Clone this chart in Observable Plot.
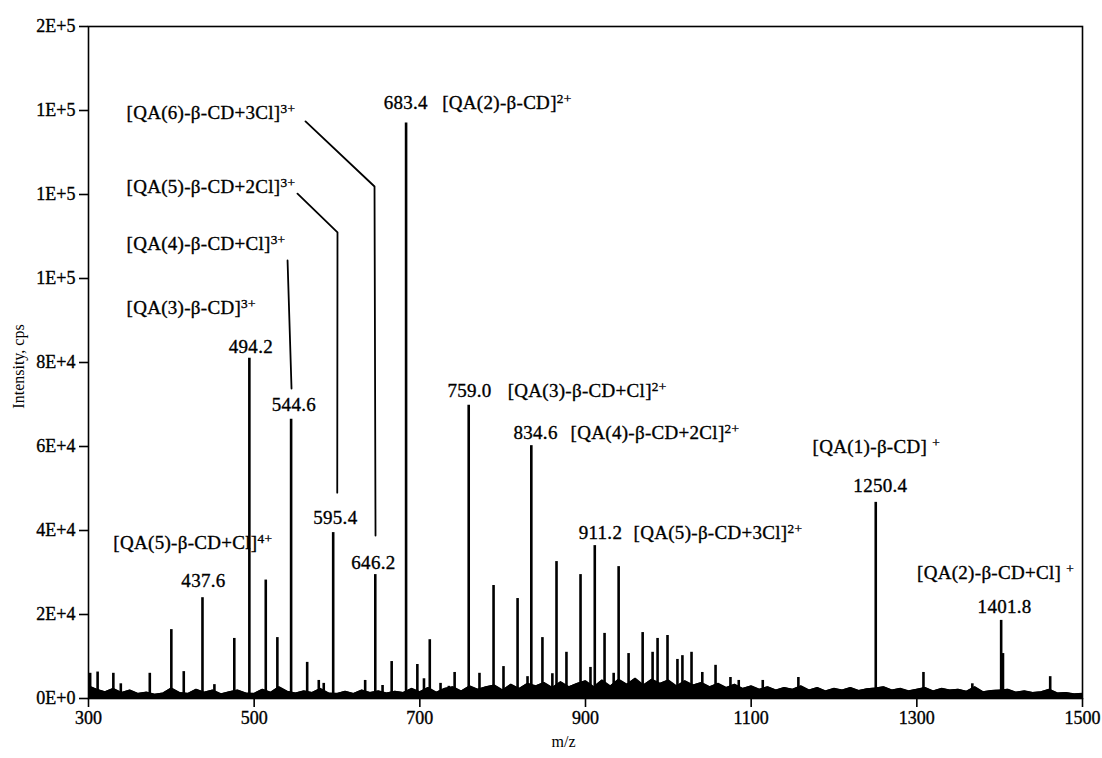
<!DOCTYPE html>
<html>
<head>
<meta charset="utf-8">
<script src="https://cdn.jsdelivr.net/npm/d3@7"></script>
<script src="https://cdn.jsdelivr.net/npm/@observablehq/plot@0.6"></script>
<style>
  html, body { margin: 0; padding: 0; background: #fff; }
  #chart { width: 1102px; height: 758px; }
</style>
</head>
<body>
<div id="chart"></div>
<script>
// ---- Data ----
const peakMz = [302, 311, 330, 339, 374, 400, 415, 437.6, 452, 476, 494.2, 514, 528, 544.6, 564, 578, 584, 595.4,
  634, 646.2, 655, 666, 683.4, 697, 705, 712, 725, 735, 742, 759.0, 772, 789, 801, 818, 830, 834.6, 848, 860, 865,
  877, 894, 906, 911.2, 923, 934, 940, 952, 969, 981, 987, 999, 1011, 1017, 1028, 1041, 1057, 1075, 1085, 1114,
  1157, 1250.4, 1308, 1367, 1401.8, 1404, 1461];
const peakIntensity = [6000, 6300, 6000, 3500, 6000, 16400, 6400, 24000, 3300, 14300, 81000, 28200, 14500, 66500, 8600, 4300, 3600, 39500,
  4300, 29500, 3100, 8800, 137000, 8100, 4700, 14000, 3600, 2900, 6200, 69800, 6000, 26900, 7600, 23800, 5200, 60200, 14500, 5900, 32600,
  11000, 29500, 7400, 36400, 15500, 6000, 31400, 10700, 15700, 11000, 14300, 15000, 9300, 10200, 11000, 6200, 7900, 5000, 4300, 4300,
  5000, 46700, 6200, 3500, 18600, 10700, 5200];

const noiseMz = [300,310,320,330,340,350,360,370,380,390,400,410,420,430,440,450,460,470,480,490,
  500,510,520,530,540,550,560,570,580,590,600,610,620,630,640,650,660,670,680,690,
  700,710,720,730,740,750,760,770,780,790,800,810,820,830,840,850,860,870,880,890,
  900,910,920,930,940,950,960,970,980,990,1000,1010,1020,1030,1040,1050,1060,1070,1080,1090,
  1100,1110,1120,1130,1140,1150,1160,1170,1180,1190,1200,1210,1220,1230,1240,1250,1260,1270,1280,1290,
  1300,1310,1320,1330,1340,1350,1360,1370,1380,1390,1400,1410,1420,1430,1440,1450,1460,1470,1480,1490,1500];
const noiseIntensity = [3000,2200,1600,2400,1400,2000,1200,1500,1000,1300,2500,1400,1200,2200,1500,2000,1100,1600,2000,1300,
  1200,2200,1500,2800,1700,1300,1800,1400,2400,1300,1200,1700,1200,2000,1400,1800,1300,1700,1400,2400,
  1600,2600,1500,2400,2800,1800,3000,2200,2800,3200,2000,3400,2400,3600,3000,3800,2600,4000,2800,3600,
  4200,2800,4400,3000,4600,3400,4800,3200,4600,3600,4400,3000,4200,3200,3800,2800,3600,2600,3400,2400,
  3000,2200,2800,2000,2600,2200,3000,2000,2600,1800,2400,2000,2600,1900,2300,2500,2800,2000,2400,1800,
  2200,2600,1800,2400,2000,2200,1700,2800,1600,1900,2000,2200,1500,1800,1400,1600,2200,1300,1400,1100,1200];

const xTicks = [300, 500, 700, 900, 1100, 1300, 1500];
const yTicks = [0, 20000, 40000, 60000, 80000, 100000, 120000, 140000, 160000];
const yTickLabels = ["0E+0", "2E+4", "4E+4", "6E+4", "8E+4", "1E+5", "1E+5", "1E+5", "2E+5"];

// annotation texts (^ marks the superscript part); anchor points in data units
const labelText = ["[QA(6)-β-CD+3Cl]^3+", "[QA(5)-β-CD+2Cl]^3+", "[QA(4)-β-CD+Cl]^3+", "[QA(3)-β-CD]^3+",
  "[QA(5)-β-CD+Cl]^4+", "[QA(2)-β-CD]^2+", "[QA(3)-β-CD+Cl]^2+", "[QA(4)-β-CD+2Cl]^2+", "[QA(5)-β-CD+3Cl]^2+"];
const labelMz = [345.9, 345.9, 345.9, 345.9, 330, 727, 806, 882, 958];
const labelY = [139500, 121700, 108300, 93100, 37100, 141900, 73300, 63300, 39500];

const centerText = ["[QA(1)-β-CD] ^+", "[QA(2)-β-CD+Cl] ^+"];
const centerMz = [1251, 1395];
const centerY = [59800, 30000];

const numText = ["437.6", "494.2", "544.6", "595.4", "646.2", "683.4", "759.0", "834.6", "911.2", "1250.4", "1401.8"];
const numMz = [438.8, 496, 548, 598, 644, 683, 760, 839.7, 918, 1256, 1406];
const numY = [28100, 83800, 69800, 43100, 32400, 141900, 73300, 63300, 39500, 50700, 21700];

const leaderId = ["a", "a", "a", "b", "b", "b", "c", "c"];
const leaderMz = [562, 645.3, 646.5, 552.3, 600.6, 600.3, 540.3, 545.1];
const leaderY = [137400, 121900, 38800, 120200, 111000, 49000, 104300, 73800];

// ---- Tables ----
const peaks = peakMz.map((m, i) => ({mz: m, v: peakIntensity[i]}));
const noise = noiseMz.map((m, i) => ({mz: m, v: noiseIntensity[i]}));
const labels = labelText.map((t, i) => ({t, mz: labelMz[i], v: labelY[i]}));
const centers = centerText.map((t, i) => ({t, mz: centerMz[i], v: centerY[i]}));
const nums = numText.map((t, i) => ({t, mz: numMz[i], v: numY[i]}));
const leaders = leaderId.map((id, i) => ({id, mz: leaderMz[i], v: leaderY[i]}));

const font = "'Liberation Serif', 'Times New Roman', serif";

const plot = Plot.plot({
  width: 1102,
  height: 758,
  marginLeft: 88,
  marginRight: 20,
  marginTop: 26,
  marginBottom: 60,
  style: {fontFamily: font, background: "#fff", color: "#000"},
  x: {domain: [300, 1500]},
  y: {domain: [0, 160000]},
  marks: [
    Plot.areaY(noise, {x: "mz", y: "v", fill: "#000", curve: "linear"}),
    Plot.lineY(noise, {x: "mz", y: "v", stroke: "#000", strokeWidth: 1.2}),
    Plot.ruleX(peaks, {x: "mz", y1: 0, y2: "v", stroke: "#000", strokeWidth: 2.6}),
    Plot.line(leaders, {x: "mz", y: "v", z: "id", stroke: "#000", strokeWidth: 1.8}),
    Plot.text(labels, {x: "mz", y: "v", text: "t", textAnchor: "start", fontSize: 19, fill: "#000", className: "ann"}),
    Plot.text(centers, {x: "mz", y: "v", text: "t", textAnchor: "middle", fontSize: 19, fill: "#000", className: "ann"}),
    Plot.text(nums, {x: "mz", y: "v", text: "t", textAnchor: "middle", fontSize: 19, fill: "#000", className: "ann"}),
    Plot.frame({stroke: "#000", strokeWidth: 1.6}),
    Plot.axisX({ticks: xTicks, tickSize: 9, tickPadding: 4, fontSize: 18, strokeWidth: 1.6, label: null, tickFormat: d => String(d)}),
    Plot.axisY({ticks: yTicks, tickSize: 9, tickPadding: 4, fontSize: 18, strokeWidth: 1.6, label: null,
      tickFormat: d => yTickLabels[yTicks.indexOf(d)]}),
    Plot.text(["Intensity, cps"], {frameAnchor: "left", textAnchor: "middle", rotate: -90, dx: -70, dy: 4, fontSize: 16, fill: "#000"}),
    Plot.text(["m/z"], {frameAnchor: "bottom", textAnchor: "middle", dx: -22, dy: 48, fontSize: 16, fill: "#000"})
  ]
});

// superscripts
d3.select(plot).selectAll("text").each(function() {
  const t = this.textContent;
  if (t.includes("^")) {
    const [a, b] = t.split("^");
    const sel = d3.select(this);
    sel.text(null);
    sel.append("tspan").attr("fill", "#000").text(a);
    sel.append("tspan").attr("fill", "#000").attr("dy", "-0.45em").attr("font-size", "0.7em").text(b);
  }
});
d3.select(plot).selectAll("g.ann text").attr("letter-spacing", "0.3")
  .attr("stroke", "#000").attr("stroke-width", 0.35);
d3.select(plot).selectAll("g[aria-label='x-axis tick label'] text, g[aria-label='y-axis tick label'] text")
  .attr("stroke", "#000").attr("stroke-width", 0.35);

document.getElementById("chart").appendChild(plot);
</script>
</body>
</html>
